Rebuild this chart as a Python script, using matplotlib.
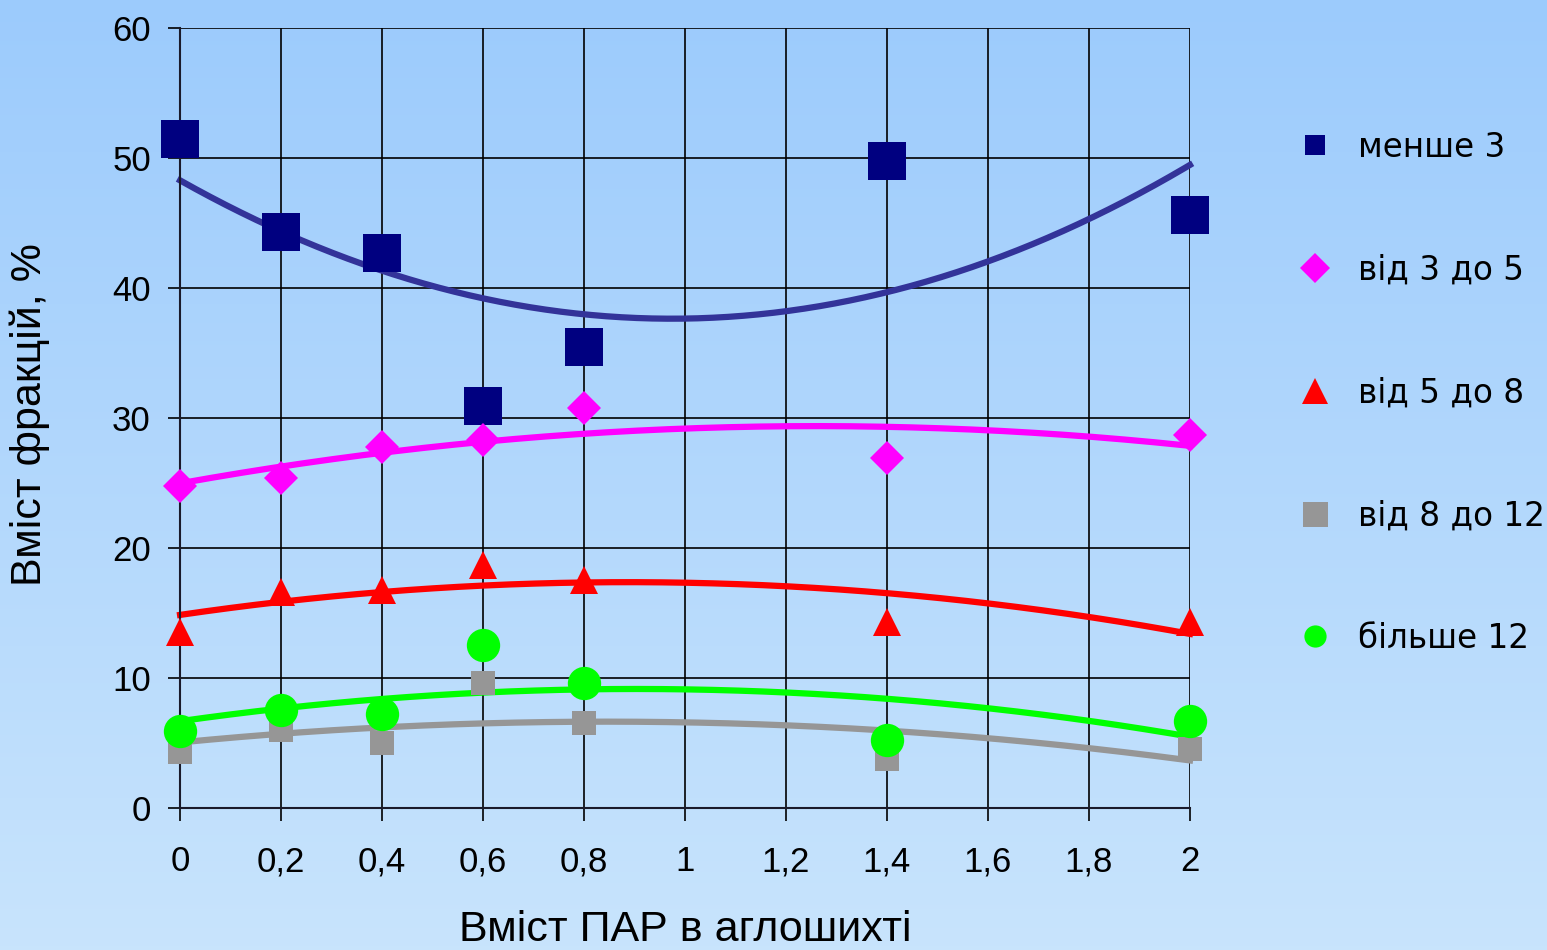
import numpy as np
import matplotlib.pyplot as plt
from matplotlib.lines import Line2D

# data
x = [0, 0.2, 0.4, 0.6, 0.8, 1.4, 2.0]
less_3 = [51.5, 44.3, 42.7, 30.9, 35.5, 49.8, 45.6]
from_3_5 = [24.8, 25.4, 27.8, 28.3, 30.8, 26.9, 28.7]
from_5_8 = [13.5, 16.6, 16.8, 18.7, 17.5, 14.3, 14.3]
from_8_12 = [4.3, 6.0, 5.0, 9.6, 6.5, 3.8, 4.5]
more_12 = [5.9, 7.5, 7.2, 12.5, 9.6, 5.2, 6.7]

labels = ['менше 3', 'від 3 до 5', 'від 5 до 8', 'від 8 до 12', 'більше 12']
xticks = [0, 0.2, 0.4, 0.6, 0.8, 1, 1.2, 1.4, 1.6, 1.8, 2]
xtick_labels = ['0', '0,2', '0,4', '0,6', '0,8', '1', '1,2', '1,4', '1,6', '1,8', '2']

series = [less_3, from_3_5, from_5_8, from_8_12, more_12]
marker_colors = ['#000080', '#ff00ff', '#ff0000', '#969696', '#00ff00']
trend_colors = ['#333399', '#ff00ff', '#ff0000', '#969696', '#00ff00']
markers = ['s', 'D', '^', 's', 'o']
msizes = [27, 17, 20, 17, 24]
leg_sizes = [15, 15, 19, 18, 16]

fig = plt.figure(figsize=(15.47, 9.5), dpi=100)

# gradient background
bg = fig.add_axes([0, 0, 1, 1], zorder=-10)
grad = np.linspace(0, 1, 256).reshape(-1, 1)
top = np.array([0x9c, 0xcb, 0xfc]) / 255
bot = np.array([0xc8, 0xe4, 0xfc]) / 255
img = top + (bot - top) * grad[:, :, None]
bg.imshow(img, aspect='auto', extent=[0, 1, 0, 1])
bg.axis('off')

ax = fig.add_axes([0.1164, 0.1495, 0.6528, 0.821])
ax.patch.set_alpha(0)

# quadratic trend lines, as in the original
xs = np.linspace(0, 2, 200)
for ys, mc, tc, m, s in zip(series, marker_colors, trend_colors, markers, msizes):
    coef = np.polyfit(x, ys, 2)
    ax.plot(xs, np.polyval(coef, xs), color=tc, lw=4.5, zorder=2, clip_on=False)
    ax.plot(x, ys, ls='none', marker=m, color=mc, markersize=s, zorder=3, clip_on=False,
            markeredgewidth=0)

ax.set_xlim(0, 2)
ax.set_ylim(0, 60)
ax.set_xticks(xticks)
ax.set_xticklabels(xtick_labels)
ax.set_yticks(range(0, 61, 10))
ax.grid(True, color='black', lw=1.2)
for sp in ['top', 'right']:
    ax.spines[sp].set_visible(False)
for sp in ['left', 'bottom']:
    ax.spines[sp].set_linewidth(1.5)
    ax.spines[sp].set_color('#1a1a2a')
ax.tick_params(axis='both', labelsize=25, length=9, width=1.2)
ax.tick_params(axis='y', pad=12)
ax.tick_params(axis='x', pad=18)
for t in ax.get_xticklabels() + ax.get_yticklabels():
    t.set_family('Liberation Sans')

fig.text(685 / 1547, 9 / 950, 'Вміст ПАР в аглошихті', fontsize=31,
         family='Liberation Sans', ha='center', va='baseline')
fig.text(30 / 1547, 1 - 415 / 950, 'Вміст фракцій, %', fontsize=31,
         family='Liberation Sans', ha='center', va='center', rotation=90)

handles = [Line2D([], [], ls='none', marker=m, color=c, markersize=s, markeredgewidth=0)
           for m, c, s in zip(markers, marker_colors, leg_sizes)]
fig.legend(handles, labels, loc='upper left', bbox_to_anchor=(0.829, 0.876),
           frameon=False, fontsize=23.5, labelspacing=2.75, handletextpad=0.7,
           handlelength=1.2, borderaxespad=0)

fig.savefig('out.png', dpi=100)
